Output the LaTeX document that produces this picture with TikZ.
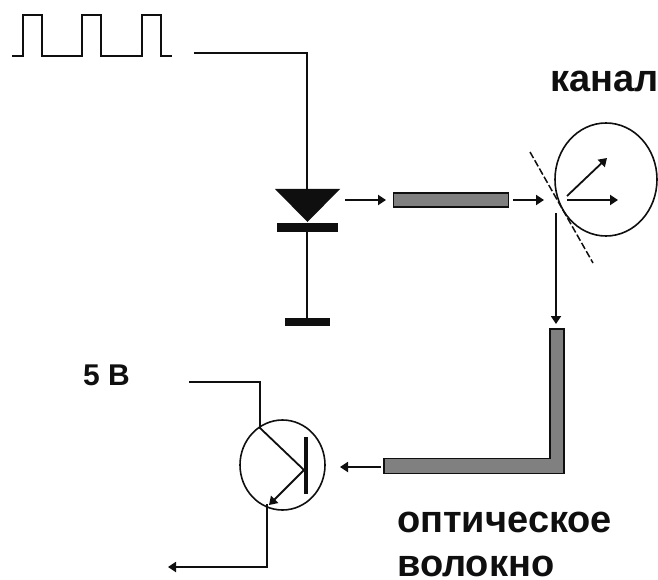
\documentclass[tikz,border=0pt]{standalone}
\usepackage{fontspec}
\setmainfont{Liberation Sans}
\usetikzlibrary{arrows.meta,shapes.geometric}
\definecolor{fibre}{RGB}{128,128,128}
\definecolor{ink}{RGB}{15,15,15}
\tikzset{
  wire/.style={draw=ink,line width=1.8pt},
  arrowline/.style={wire,-{Triangle[length=8pt,width=10pt]}},
  solidbar/.style={fill=ink,draw=none,inner sep=0pt,rectangle},
  fibrebox/.style={draw=ink,fill=fibre,line width=1.8pt,inner sep=0pt,rectangle},
  ring/.style={draw=ink,line width=1.6pt,ellipse,inner sep=0pt},
  label/.style={font=\fontsize{38}{38}\selectfont\bfseries,text=ink,inner sep=0pt,anchor=base west},
}
\begin{document}
\begin{tikzpicture}[x=1pt,y=-1pt]
\useasboundingbox (0,0) rectangle (658,580);
% pulse train
\draw[wire,line join=miter] (12,56) -- (23,56) -- (23,15) -- (42,15) -- (42,56) -- (82,56) -- (82,15) -- (101,15) -- (101,56) -- (142,56) -- (142,15) -- (161,15) -- (161,56) -- (172,56);
% LED
\coordinate (in) at (194,53);
\coordinate (corner) at (307,53);
\coordinate (dtop) at (307,190);
\node[solidbar,minimum width=61pt,minimum height=9pt] (dbar) at (307.5,227.5) {};
\node[solidbar,minimum width=45pt,minimum height=8pt] (gnd) at (307.5,322) {};
\fill[ink] (275,189) -- (340,189) -- (307.5,222) -- cycle;
\draw[wire] (in) -- (corner) -- (dtop);
\draw[wire] (dtop |- dbar.south) -- (dtop |- gnd.north);
% upper fibre
\node[fibrebox,minimum width=115pt,minimum height=14pt] (fib) at (451,200) {};
\coordinate (led) at (345,200);
\coordinate (fibin) at (386,200);
\draw[arrowline] (led) -- (fibin);
% channel
\node[ring,minimum width=102pt,minimum height=113pt] (chan) at (606,179.5) {};
\coordinate (m1) at (530,152);
\coordinate (m2) at (593,263);
\draw[draw=ink,line width=1.5pt,dash pattern=on 7pt off 2.5pt] (m1) -- (m2);
\coordinate (hit) at (544,200);
\coordinate (fibout) at (513,200);
\draw[arrowline] (fibout) -- (hit);
\coordinate (o1) at (567,200);
\coordinate (o2) at (618,200);
\coordinate (o3) at (567,196);
\coordinate (o4) at (607,158);
\draw[arrowline] (o1) -- (o2);
\draw[arrowline] (o3) -- (o4);
\coordinate (r1) at (556,213);
\coordinate (r2) at (556,324);
\draw[arrowline] (r1) -- (r2);
% lower fibre
\draw[draw=ink,fill=fibre,line width=1.8pt] (550,329) -- (564,329) -- (564,473.5) -- (384,473.5) -- (384,458.5) -- (550,458.5) -- cycle;
% phototransistor
\node[ring,minimum width=85pt,minimum height=90pt] (pt) at (282.5,465) {};
\node[solidbar,minimum width=4.5pt,minimum height=57pt] (base) at (306,465) {};
\coordinate (fibend) at (381,467);
\coordinate (ptin) at (340,467);
\draw[arrowline] (fibend) -- (ptin);
\coordinate (j) at (304,470);
\coordinate (vcc) at (189,382);
\draw[wire] (vcc) -- (260,382) -- (260,428) -- (j);
\coordinate (em) at (269,505);
\draw[arrowline] (j) -- (em);
\coordinate (e2) at (267,504);
\coordinate (e3) at (267,567);
\coordinate (out) at (168,567);
\draw[arrowline] (e2) -- (e3) -- (out);
% labels
\node[label,font=\fontsize{30}{30}\selectfont\bfseries] (v) at (83,385) {5 В};
\node[label] (k) at (550,92) {канал};
\node[label] (o1t) at (397,532) {оптическое};
\node[label] (o2t) at (397,576) {волокно};
\end{tikzpicture}
\end{document}
